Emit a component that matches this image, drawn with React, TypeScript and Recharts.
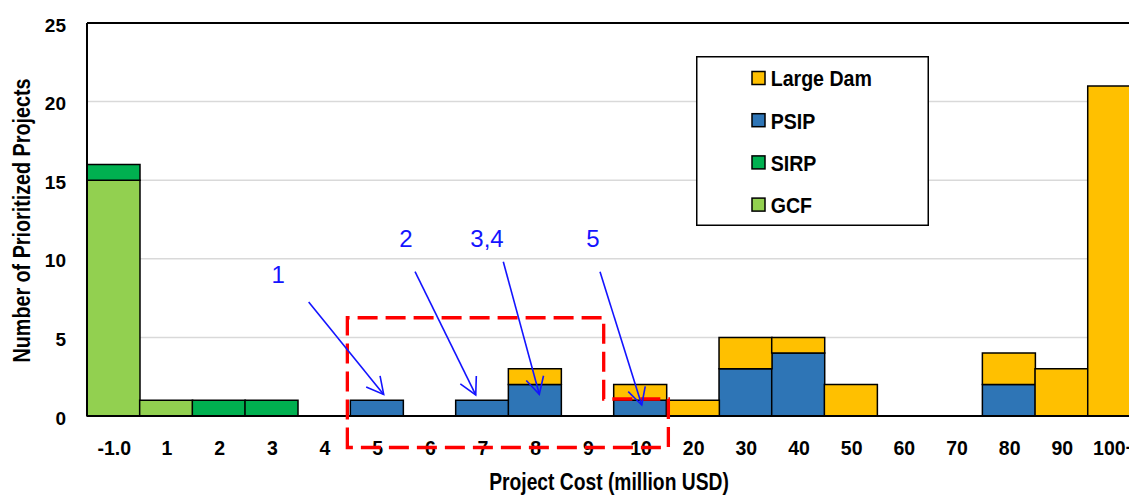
import React from 'react';
import { BarChart, Bar, XAxis, YAxis, CartesianGrid, Legend, ReferenceLine } from 'recharts';

// Cost bins (million USD) and project counts per programme
const CATEGORIES = ['-1.0', '1', '2', '3', '4', '5', '6', '7', '8', '9', '10', '20', '30', '40', '50', '60', '70', '80', '90', '100+'];
const GCF = [15, 1, 0, 0, 0, 0, 0, 0, 0, 0, 0, 0, 0, 0, 0, 0, 0, 0, 0, 0];
const SIRP = [1, 0, 1, 1, 0, 0, 0, 0, 0, 0, 0, 0, 0, 0, 0, 0, 0, 0, 0, 0];
const PSIP = [0, 0, 0, 0, 0, 1, 0, 1, 2, 0, 1, 0, 3, 4, 0, 0, 0, 2, 0, 0];
const LARGE_DAM = [0, 0, 0, 0, 0, 0, 0, 0, 1, 0, 1, 1, 2, 1, 2, 0, 0, 2, 3, 21];
const Y_TICKS = [0, 5, 10, 15, 20, 25];

const SERIES = [
  { key: 'GCF', name: 'GCF', color: '#92D050', values: GCF },
  { key: 'SIRP', name: 'SIRP', color: '#00B050', values: SIRP },
  { key: 'PSIP', name: 'PSIP', color: '#2E75B6', values: PSIP },
  { key: 'LargeDam', name: 'Large Dam', color: '#FFC000', values: LARGE_DAM },
];

const data = CATEGORIES.map((cat, i) => {
  const row: Record<string, string | number> = { cat };
  SERIES.forEach((s) => {
    row[s.key] = s.values[i];
  });
  return row;
});

// Layout
const PLOT_LEFT = 87;
const PLOT_TOP = 23;
const X_AXIS_H = 79;
const CHART_H = 495;
const PLOT_BOTTOM = CHART_H - X_AXIS_H;
const BAND = 52.67;
const RIGHT_MARGIN = 10;
const CHART_W = PLOT_LEFT + BAND * CATEGORIES.length + RIGHT_MARGIN;
const Y_MAX = 25;

const FONT = "'Liberation Sans', Arial, sans-serif";
const ANNOT_BLUE = '#1414FF';

const xCenter = (cat: string) => PLOT_LEFT + (CATEGORIES.indexOf(cat) + 0.5) * BAND;
const xEdge = (i: number) => PLOT_LEFT + i * BAND;
const yOf = (v: number) => PLOT_BOTTOM - (v / Y_MAX) * (PLOT_BOTTOM - PLOT_TOP);

// Numbered callouts pointing at individual projects
const CALLOUTS = [
  { label: '1', target: '5', tipDx: 7, tipValue: 1.37, tail: [-75, -92.5], text: [-30.5, -19] },
  { label: '2', target: '7', tipDx: -6.3, tipValue: 1.34, tail: [-60.7, -123.3], text: [-9, -24.7] },
  { label: '3,4', target: '8', tipDx: 4.6, tipValue: 1.38, tail: [-36, -132.6], text: [-16.3, -14.7] },
  { label: '5', target: '10', tipDx: 1.7, tipValue: 0.7, tail: [-41.7, -133.3], text: [-7, -24.7] },
];

type NarrowProps = {
  x: number;
  y: number;
  size: number;
  anchor?: 'start' | 'middle' | 'end';
  rotate?: number;
  squeeze?: number;
  fill?: string;
  weight?: string;
  children: React.ReactNode;
};

function NarrowText({ x, y, size, anchor = 'start', rotate, squeeze = 0.87, fill = '#000', weight = 'bold', children }: NarrowProps) {
  const t = `translate(${x},${y})${rotate ? ` rotate(${rotate})` : ''} scale(${squeeze},1)`;
  return (
    <text transform={t} textAnchor={anchor} fontSize={size} fontWeight={weight} fontFamily={FONT} fill={fill}>
      {children}
    </text>
  );
}

const XTick = (props: any) => {
  const { x, y, payload } = props;
  return (
    <text x={x + 1} y={y + 39} textAnchor="middle" fontSize={19.5} fontWeight="bold" fontFamily={FONT} fill="#000">
      {payload.value}
    </text>
  );
};

const YTick = (props: any) => {
  const { x, y, payload } = props;
  return (
    <text x={x - 21} y={y + 8.7} textAnchor="end" fontSize={19} fontWeight="bold" fontFamily={FONT} fill="#000">
      {payload.value}
    </text>
  );
};

const LEGEND_LEFT = 696;
const LEGEND_TOP = 56;
const LEGEND_W = 233;
const LEGEND_H = 170;

const LegendBox = () => {
  const items = [...SERIES].reverse();
  return (
    <svg width={LEGEND_W} height={LEGEND_H} style={{ display: 'block' }}>
      <rect x={0.75} y={0.75} width={LEGEND_W - 1.5} height={LEGEND_H - 1.5} fill="#fff" stroke="#000" strokeWidth={1.5} />
      {items.map((s, i) => {
        const cy = 22 + i * 42.2;
        return (
          <g key={s.key}>
            <rect x={56} y={cy - 6.5} width={13} height={13} fill={s.color} stroke="#000" strokeWidth={1.5} />
            <NarrowText x={74.7} y={cy + 8.3} size={22.5}>
              {s.name}
            </NarrowText>
          </g>
        );
      })}
    </svg>
  );
};

function arrowHead(tx: number, ty: number, fx: number, fy: number, len = 19, ang = 28) {
  const a = Math.atan2(fy - ty, fx - tx);
  const r = (ang * Math.PI) / 180;
  const p1 = [tx + len * Math.cos(a + r), ty + len * Math.sin(a + r)];
  const p2 = [tx + len * Math.cos(a - r), ty + len * Math.sin(a - r)];
  return `M${p1[0]},${p1[1]} L${tx},${ty} L${p2[0]},${p2[1]}`;
}

const Overlay = () => {
  const left = xEdge(5) - 3;
  const right = xEdge(10) - 10;
  const step = xEdge(11) + 2;
  const top = yOf(6.25);
  const mid = yOf(1.08);
  const bottom = PLOT_BOTTOM + 31.5;
  const boxPath = `M${left},${bottom} L${left},${top} L${right},${top} L${right},${mid} L${step},${mid} L${step},${bottom} Z`;

  return (
    <svg
      width={1129}
      height={CHART_H}
      style={{ position: 'absolute', left: 0, top: 0, pointerEvents: 'none' }}
    >
      {/* axis titles */}
      <NarrowText x={30} y={220.5} size={23.5} anchor="middle" rotate={-90} squeeze={0.84}>
        Number of Prioritized Projects
      </NarrowText>
      <NarrowText x={609} y={490} size={23.5} anchor="middle" squeeze={0.82}>
        Project Cost (million USD)
      </NarrowText>

      {/* highlighted cost range */}
      <path d={boxPath} fill="none" stroke="#FF0000" strokeWidth={3.3} strokeDasharray="20 8" />

      {/* numbered callouts */}
      {CALLOUTS.map((c) => {
        const tx = xCenter(c.target) + c.tipDx;
        const ty = yOf(c.tipValue);
        const fx = tx + c.tail[0];
        const fy = ty + c.tail[1];
        return (
          <g key={c.label}>
            <line x1={fx} y1={fy} x2={tx} y2={ty} stroke={ANNOT_BLUE} strokeWidth={1.6} />
            <path d={arrowHead(tx, ty, fx, fy)} fill="none" stroke={ANNOT_BLUE} strokeWidth={1.6} />
            <text
              x={fx + c.text[0]}
              y={fy + c.text[1]}
              textAnchor="middle"
              fontSize={24}
              fontFamily={FONT}
              fill={ANNOT_BLUE}
            >
              {c.label}
            </text>
          </g>
        );
      })}
    </svg>
  );
};

export default function App() {
  return (
    <div
      style={{
        position: 'absolute',
        left: 0,
        top: 0,
        width: 1129,
        height: CHART_H,
        overflow: 'hidden',
        background: '#fff',
      }}
    >
      <BarChart
        width={CHART_W}
        height={CHART_H}
        data={data}
        margin={{ top: PLOT_TOP, right: RIGHT_MARGIN, bottom: 0, left: 0 }}
        barCategoryGap={0}
        barGap={0}
      >
        <CartesianGrid vertical={false} stroke="#D9D9D9" strokeWidth={1.5} />
        <XAxis
          dataKey="cat"
          height={X_AXIS_H}
          interval={0}
          tickLine={false}
          tickSize={0}
          tickMargin={0}
          axisLine={{ stroke: '#000', strokeWidth: 2 }}
          tick={XTick}
        />
        <YAxis
          width={PLOT_LEFT}
          domain={[0, Y_MAX]}
          ticks={Y_TICKS}
          interval={0}
          tickLine={false}
          tickSize={0}
          tickMargin={0}
          axisLine={{ stroke: '#000', strokeWidth: 2 }}
          tick={YTick}
        />
        <ReferenceLine y={Y_MAX} stroke="#000" strokeWidth={2} />
        <Legend
          layout="horizontal"
          verticalAlign="middle"
          align="center"
          content={LegendBox}
          wrapperStyle={{ left: LEGEND_LEFT, top: LEGEND_TOP, width: LEGEND_W, height: LEGEND_H }}
        />
        {SERIES.map((s) => (
          <Bar
            key={s.key}
            dataKey={s.key}
            name={s.name}
            stackId="cost"
            fill={s.color}
            stroke="#000"
            strokeWidth={1.5}
            isAnimationActive={false}
          />
        ))}
      </BarChart>
      <Overlay />
    </div>
  );
}
